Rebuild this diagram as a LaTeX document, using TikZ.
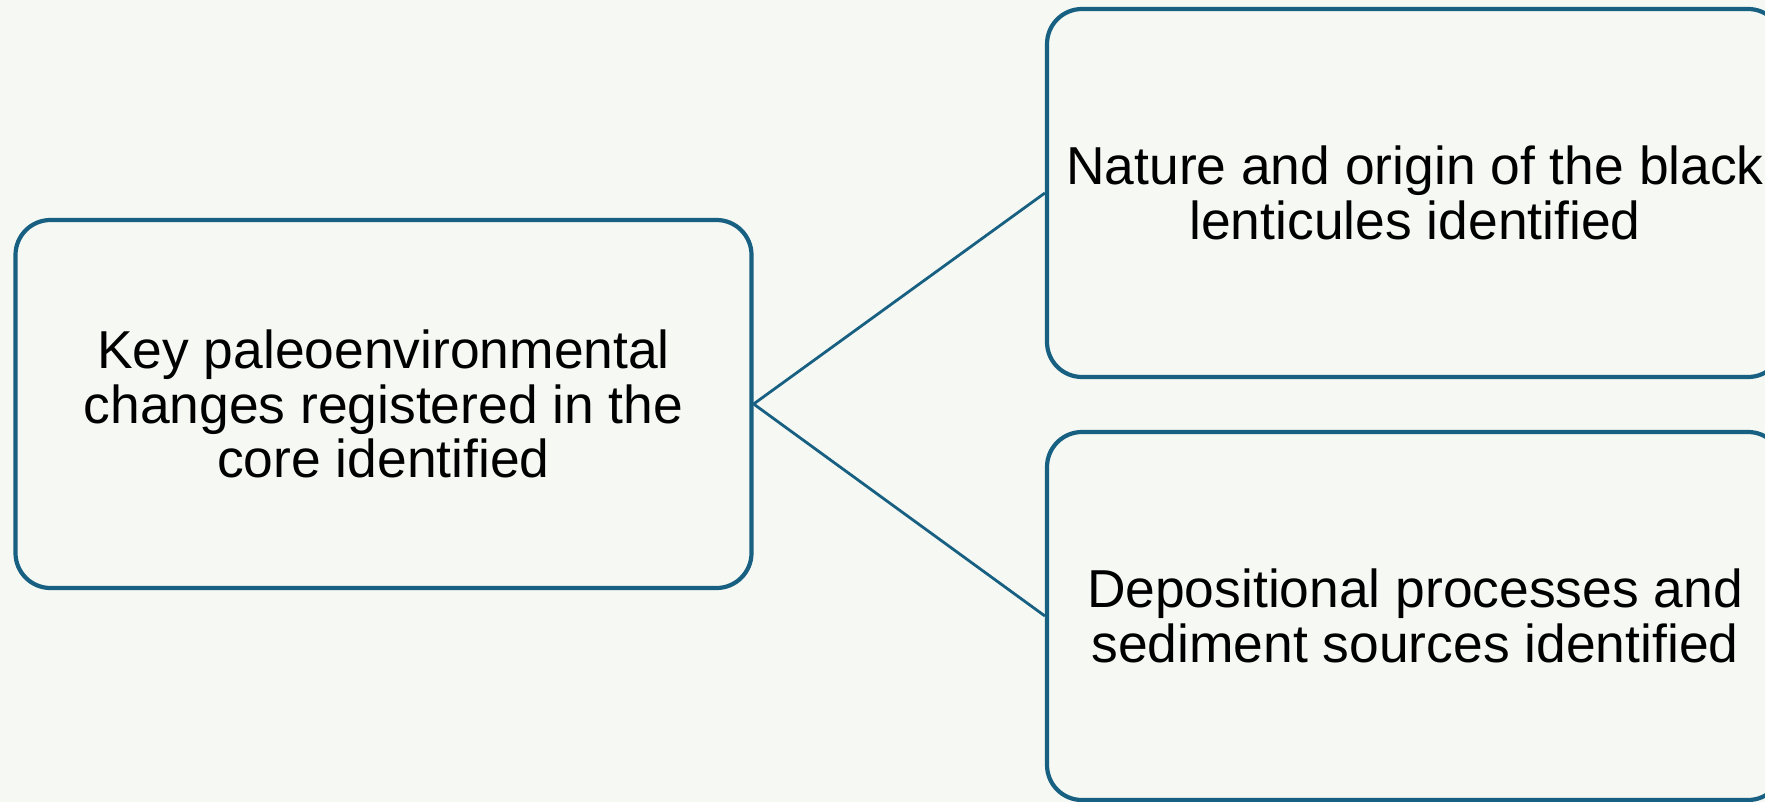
\documentclass[tikz,border=0pt]{standalone}
\usepackage{fontspec}
\setmainfont{Liberation Sans}
\definecolor{boxblue}{RGB}{24,96,130}
\definecolor{paper}{RGB}{245,248,243}
\begin{document}
\begin{tikzpicture}[x=0.5pt, y=-0.5pt,
  box/.style={rectangle, rounded corners=17.5pt, draw=boxblue, line width=2.1pt,
    minimum width=368pt, minimum height=184pt, inner sep=0pt, align=center,
    font=\fontsize{26.7pt}{27.3pt}\selectfont},
  link/.style={draw=boxblue, line width=1.4pt}]

\fill [paper] (0,0) rectangle (1765,802);
\useasboundingbox (0,0) rectangle (1765,802);

\node [box] (core) at (383.5,404) {Key paleoenvironmental\\changes registered in the\\core identified};
\node [box] (lent) at (1415,193) {Nature and origin of the black\\lenticules identified};
\node [box] (sedi) at (1415,616) {Depositional processes and\\sediment sources identified};

\draw [link] (core.east) -- (lent.west);
\draw [link] (core.east) -- (sedi.west);
\end{tikzpicture}
\end{document}
